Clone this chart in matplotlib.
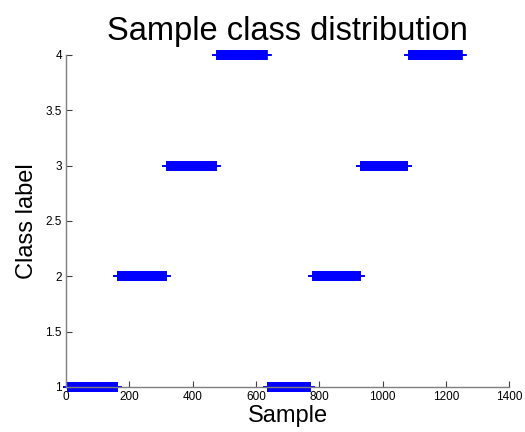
import numpy as np
import matplotlib
matplotlib.use("Agg")
import matplotlib.pyplot as plt

# Segments of consecutive samples sharing one class label
seg_start = [5, 163, 319, 477, 637, 780, 931, 1082]
seg_end = [161, 316, 474, 634, 771, 929, 1078, 1250]
seg_label = [1, 2, 3, 4, 1, 2, 3, 4]

xticks = [0, 200, 400, 600, 800, 1000, 1200, 1400]
yticks = [1, 1.5, 2, 2.5, 3, 3.5, 4]

plt.rcParams['font.family'] = ['Liberation Sans', 'DejaVu Sans']

fig = plt.figure(figsize=(5.25, 4.32), dpi=100)
ax = fig.add_axes([0.1257, 0.1042, 0.8443, 0.7685])

for s, e, lab in zip(seg_start, seg_end, seg_label):
    xs = np.arange(s, e + 1)
    ys = np.full(xs.shape, lab)
    ax.plot(xs, ys, linestyle='none', marker='+', markersize=6.7,
            markeredgewidth=1.2, color=(0, 0, 1), clip_on=False)

ax.set_xlim(0, 1400)
ax.set_ylim(1, 4)
ax.set_xticks(xticks)
ax.set_xticklabels([str(t) for t in xticks])
ax.set_yticks(yticks)
ax.set_yticklabels(['1', '1.5', '2', '2.5', '3', '3.5', '4'])

for side in ['top', 'right']:
    ax.spines[side].set_visible(False)
for side in ['left', 'bottom']:
    ax.spines[side].set_color('#7f7f7f')
    ax.spines[side].set_linewidth(1.0)

ax.tick_params(direction='in', length=4, width=0.8, color='#404040',
               labelsize=8.5, pad=3, labelcolor='black')

ax.set_title('Sample class distribution', fontsize=23.5, pad=11)
ax.set_xlabel('Sample', fontsize=17, labelpad=1.5)
ax.set_ylabel('Class label', fontsize=17, labelpad=5)

fig.savefig('out.png', dpi=100)
